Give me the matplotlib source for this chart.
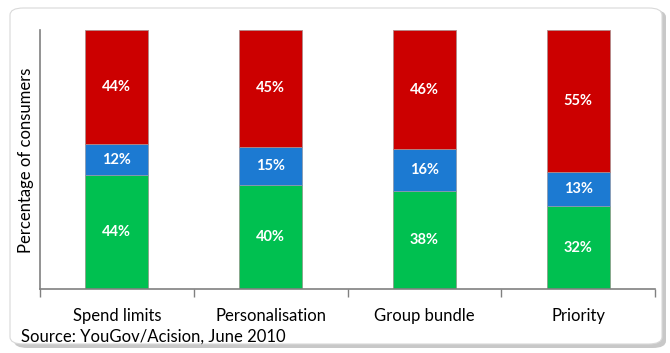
import matplotlib
matplotlib.use("Agg")
import matplotlib.pyplot as plt
from matplotlib.patches import FancyBboxPatch
import numpy as np

categories = ["Spend limits", "Personalisation", "Group bundle", "Priority"]
green_vals = [44, 40, 38, 32]
blue_vals = [12, 15, 16, 13]
red_vals = [44, 45, 46, 55]

W, H = 670, 353
fig = plt.figure(figsize=(W / 100, H / 100), dpi=100)
plt.rcParams['font.family'] = ['Lato', 'DejaVu Sans']

# border with shadow
shadow = FancyBboxPatch((14 / W, 5 / H), 652 / W, 338 / H,
                        boxstyle="round,pad=0,rounding_size=0.02",
                        transform=fig.transFigure, facecolor="#c8c8c8",
                        edgecolor="none", zorder=-2)
fig.patches.append(shadow)
box = FancyBboxPatch((10 / W, 9 / H), 652 / W, 336 / H,
                     boxstyle="round,pad=0,rounding_size=0.02",
                     transform=fig.transFigure, facecolor="white",
                     edgecolor="#d9d9d9", linewidth=0.8, zorder=-1)
fig.patches.append(box)

ax = fig.add_axes([40 / W, (H - 289) / H, 615 / W, 259 / H])
ax.set_zorder(2)
ax.set_facecolor("none")
x = np.arange(len(categories))
bw = 0.41
g = np.array(green_vals)
b = np.array(blue_vals)
r = np.array(red_vals)
ax.bar(x, g, bw, color="#00c050", edgecolor="#8aa08a", linewidth=0.6)
ax.bar(x, b, bw, bottom=g, color="#1c7ad2", edgecolor="#8a9ab0", linewidth=0.6)
ax.bar(x, r, bw, bottom=g + b, color="#cc0000", edgecolor="#b08a8a", linewidth=0.6)

for i in range(len(categories)):
    for val, bot in ((g[i], 0), (b[i], g[i]), (r[i], g[i] + b[i])):
        ax.text(x[i], bot + val / 2, f"{val}%", ha="center", va="center",
                color="white", fontsize=10.5, fontweight="bold")

ax.set_xlim(-0.5, len(categories) - 0.5)
ax.set_ylim(0, 100)
ax.set_yticks([])
ax.set_xticks(np.arange(len(categories) + 1) - 0.5, minor=False)
ax.set_xticklabels([])
ax.tick_params(axis="x", length=6, color="#808080", width=1)
for i, c in enumerate(categories):
    ax.text(x[i], -10.5, c, ha="center", va="center", fontsize=12, color="black")
for s in ("top", "right"):
    ax.spines[s].set_visible(False)
for s in ("left", "bottom"):
    ax.spines[s].set_color("#808080")
    ax.spines[s].set_linewidth(1.2)

fig.text(26 / W, 1 - 160 / H, "Percentage of consumers", rotation=90,
         ha="center", va="center", fontsize=12)
fig.text(21 / W, 1 - 337 / H, "Source: YouGov/Acision, June 2010",
         ha="left", va="center", fontsize=12)

fig.savefig("out.png", dpi=100)
